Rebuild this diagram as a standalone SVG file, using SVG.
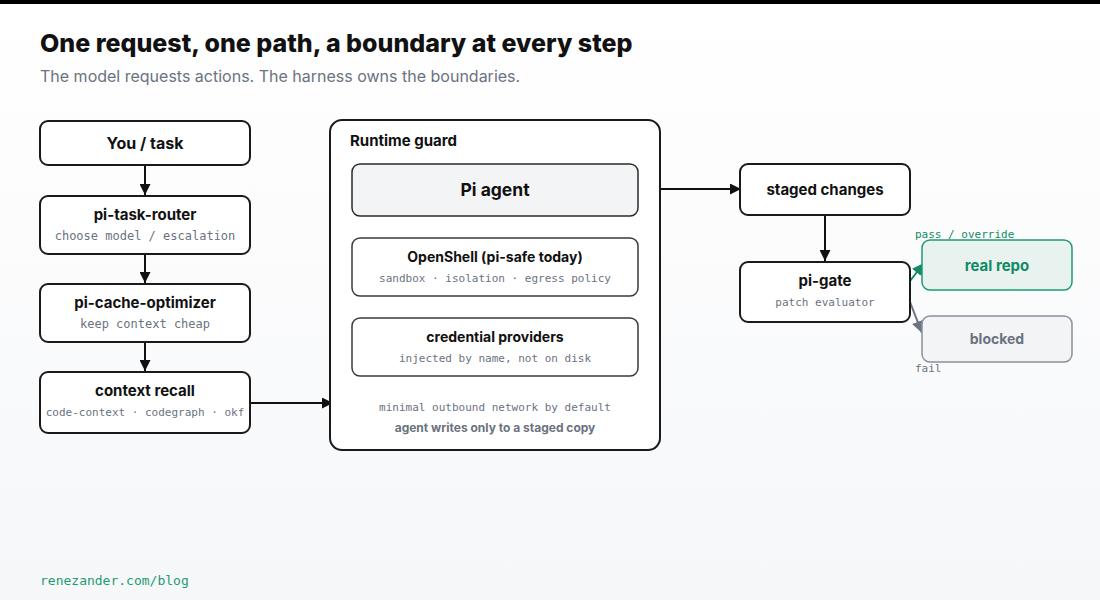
<svg xmlns="http://www.w3.org/2000/svg" width="1100" height="600" viewBox="0 0 1100 600">
<defs>
<linearGradient id="bg" x1="0" y1="0" x2="0" y2="1">
<stop offset="0" stop-color="#ffffff"/>
<stop offset="1" stop-color="#f6f7f9"/>
</linearGradient>
<marker id="ah" viewBox="0 0 10 10" refX="10" refY="5" markerWidth="11" markerHeight="11" markerUnits="userSpaceOnUse" orient="auto"><path d="M0,0 L10,5 L0,10 z" fill="#111111"/></marker>
<marker id="ahg" viewBox="0 0 10 10" refX="10" refY="5" markerWidth="12" markerHeight="12" markerUnits="userSpaceOnUse" orient="auto"><path d="M0,0 L10,5 L0,10 z" fill="#128a66"/></marker>
<marker id="ahx" viewBox="0 0 10 10" refX="10" refY="5" markerWidth="12" markerHeight="12" markerUnits="userSpaceOnUse" orient="auto"><path d="M0,0 L10,5 L0,10 z" fill="#6b7280"/></marker>
</defs>
<style>
.sans{font-family:Inter,"Liberation Sans",sans-serif}
.mono{font-family:"DejaVu Sans Mono","Liberation Mono",monospace}
.box{fill:#ffffff;stroke:#1a1a1a;stroke-width:2}
.inner{fill:#ffffff;stroke:#3a3a3a;stroke-width:1.5}
.t{font-family:Inter,"Liberation Sans",sans-serif;font-weight:700;font-size:15px;fill:#111111;text-anchor:middle}
.s{font-family:"DejaVu Sans Mono","Liberation Mono",monospace;font-size:11px;fill:#6b7280;text-anchor:middle}
.ln{stroke:#111111;stroke-width:2;fill:none}
</style>
<rect width="1100" height="600" fill="url(#bg)"/>
<rect width="1100" height="4" fill="#000000"/>
<text x="40" y="52" class="sans" font-size="25" font-weight="800" fill="#111111">One request, one path, a boundary at every step</text>
<text x="40" y="82" class="sans" font-size="16" fill="#6b7280">The model requests actions. The harness owns the boundaries.</text>

<g id="connectors">
<line x1="145" y1="165" x2="145" y2="195" class="ln" marker-end="url(#ah)"/>
<line x1="145" y1="254" x2="145" y2="283" class="ln" marker-end="url(#ah)"/>
<line x1="145" y1="342" x2="145" y2="371" class="ln" marker-end="url(#ah)"/>
<line x1="250" y1="403" x2="333" y2="403" class="ln" marker-end="url(#ah)"/>
<line x1="660" y1="189" x2="741" y2="189" class="ln" marker-end="url(#ah)"/>
<line x1="825" y1="215" x2="825" y2="261" class="ln" marker-end="url(#ah)"/>
<line x1="910" y1="281" x2="924" y2="263" stroke="#128a66" stroke-width="2" marker-end="url(#ahg)"/>
<line x1="910" y1="302" x2="922" y2="333" stroke="#6b7280" stroke-width="2" marker-end="url(#ahx)"/>
<text x="915" y="238" class="mono" font-size="11" fill="#128a66">pass / override</text>
<text x="915" y="372" class="mono" font-size="11" fill="#6b7280">fail</text>
</g>

<g id="you-task">
<rect x="40" y="121" width="210" height="44" rx="8" class="box"/>
<text x="145" y="149" class="t" style="font-size:16px">You / task</text>
</g>
<g id="pi-task-router">
<rect x="40" y="196" width="210" height="58" rx="8" class="box"/>
<text x="145" y="220" class="t">pi-task-router</text>
<text x="145" y="240" class="s" style="font-size:12px">choose model / escalation</text>
</g>
<g id="pi-cache-optimizer">
<rect x="40" y="284" width="210" height="58" rx="8" class="box"/>
<text x="145" y="308" class="t">pi-cache-optimizer</text>
<text x="145" y="328" class="s" style="font-size:12px">keep context cheap</text>
</g>
<g id="context-recall">
<rect x="40" y="372" width="210" height="61" rx="8" class="box"/>
<text x="145" y="396" class="t">context recall</text>
<text x="145" y="416" class="s">code-context · codegraph · okf</text>
</g>

<g id="runtime-guard">
<rect x="330" y="120" width="330" height="330" rx="12" class="box"/>
<text x="350" y="146" class="sans" font-size="15" font-weight="700" fill="#111111">Runtime guard</text>
<text x="495" y="411" class="s">minimal outbound network by default</text>
<text x="495" y="432" class="sans" font-size="12" font-weight="700" fill="#6b7280" text-anchor="middle">agent writes only to a staged copy</text>
</g>
<g id="pi-agent">
<rect x="352" y="164" width="286" height="52" rx="8" fill="#f3f4f6" stroke="#2a2a2a" stroke-width="1.5"/>
<text x="495" y="196" class="t" style="font-size:17.5px">Pi agent</text>
</g>
<g id="openshell">
<rect x="352" y="238" width="286" height="58" rx="8" class="inner"/>
<text x="495" y="262" class="t" style="font-size:14px">OpenShell (pi-safe today)</text>
<text x="495" y="282" class="s">sandbox · isolation · egress policy</text>
</g>
<g id="credential-providers">
<rect x="352" y="318" width="286" height="58" rx="8" class="inner"/>
<text x="495" y="342" class="t" style="font-size:14px">credential providers</text>
<text x="495" y="362" class="s">injected by name, not on disk</text>
</g>

<g id="staged-changes">
<rect x="740" y="164" width="170" height="51" rx="8" class="box"/>
<text x="825" y="195" class="t">staged changes</text>
</g>
<g id="pi-gate">
<rect x="740" y="262" width="170" height="60" rx="8" class="box"/>
<text x="825" y="286" class="t">pi-gate</text>
<text x="825" y="306" class="s">patch evaluator</text>
</g>
<g id="real-repo">
<rect x="922" y="240" width="150" height="50" rx="8" fill="#e8f3ef" stroke="#1f9a74" stroke-width="1.5"/>
<text x="997" y="271" class="t" style="fill:#128a66">real repo</text>
</g>
<g id="blocked">
<rect x="922" y="316" width="150" height="46" rx="8" fill="#f3f4f6" stroke="#8b909a" stroke-width="1.5"/>
<text x="997" y="344" class="t" style="fill:#6b7280;font-size:14px">blocked</text>
</g>

<text x="40" y="585" class="mono" font-size="13" fill="#1f9a74">renezander.com/blog</text>
</svg>
